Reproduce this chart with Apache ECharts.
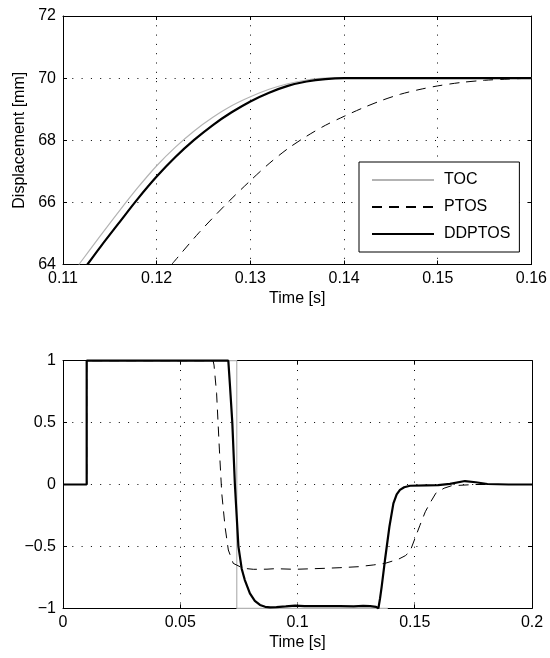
<!DOCTYPE html>
<html>
<head>
<meta charset="utf-8">
<script src="https://cdn.jsdelivr.net/npm/echarts@6.0.0/dist/echarts.min.js"></script>
<style>
html,body{margin:0;padding:0;background:#fff;}
#chart{width:550px;height:658px;}
</style>
</head>
<body>
<div id="chart"></div>
<script>
// ---------- Data ----------
const seriesNames = ['TOC', 'PTOS', 'DDPTOS'];

// Top plot: displacement [mm] vs time [s]
const tocDisp = [
  [0.1117, 64.00], [0.1140, 64.93], [0.1160, 65.72], [0.1180, 66.48], [0.1200, 67.18],
  [0.1220, 67.78], [0.1240, 68.30], [0.1260, 68.74], [0.1280, 69.11], [0.1300, 69.40],
  [0.1320, 69.64], [0.1340, 69.82], [0.1360, 69.94], [0.1380, 70.00], [0.1500, 70.01],
  [0.1600, 70.01]
];
const ptosDisp = [
  [0.1216, 64.00], [0.1245, 65.02], [0.1276, 66.00], [0.1300, 66.70], [0.1320, 67.25],
  [0.1340, 67.73], [0.1360, 68.13], [0.1380, 68.48], [0.1400, 68.77], [0.1420, 69.04],
  [0.1440, 69.28], [0.1460, 69.48], [0.1480, 69.63], [0.1500, 69.75], [0.1525, 69.86],
  [0.1550, 69.93], [0.1575, 69.97], [0.1600, 70.00]
];
const ddptosDisp = [
  [0.1126, 64.00], [0.1140, 64.57], [0.1160, 65.35], [0.1180, 66.12], [0.1200, 66.83],
  [0.1220, 67.46], [0.1240, 68.01], [0.1260, 68.49], [0.1280, 68.90], [0.1300, 69.25],
  [0.1320, 69.53], [0.1340, 69.75], [0.1360, 69.89], [0.1380, 69.97], [0.1400, 70.00],
  [0.1500, 70.00], [0.1600, 70.00]
];

// Bottom plot: normalized control signal vs time [s]
const tocCtrl = [
  [0, 0], [0.0101, 0], [0.0101, 1], [0.0741, 1], [0.0741, -1], [0.1385, -1]
];
const ptosCtrl = [
  [0, 0], [0.0101, 0], [0.0101, 1], [0.0640, 1], [0.0644, 0.965], [0.0655, 0.737],
  [0.0667, 0.279], [0.0677, -0.071], [0.0691, -0.34], [0.0705, -0.529], [0.0726, -0.637],
  [0.0769, -0.677], [0.0812, -0.685], [0.0870, -0.684], [0.0904, -0.68], [0.0989, -0.685],
  [0.1117, -0.677], [0.1181, -0.672], [0.1259, -0.664], [0.1323, -0.65], [0.1373, -0.637],
  [0.1430, -0.604], [0.1460, -0.575], [0.1480, -0.54], [0.1500, -0.44], [0.1522, -0.33],
  [0.1545, -0.22], [0.1565, -0.15], [0.1590, -0.07], [0.1625, -0.03], [0.1657, -0.01],
  [0.1756, 0.0], [0.2000, 0.0]
];
const ddptosCtrl = [
  [0, 0], [0.0101, 0], [0.0101, 1], [0.0705, 1], [0.0712, 0.8], [0.0722, 0.5],
  [0.0733, 0], [0.0748, -0.5], [0.0762, -0.68], [0.0775, -0.77], [0.0797, -0.88],
  [0.0818, -0.94], [0.0840, -0.973], [0.0862, -0.988], [0.0883, -0.993], [0.0910, -0.99],
  [0.0950, -0.985], [0.0990, -0.978], [0.1030, -0.982], [0.1100, -0.983], [0.1180, -0.982],
  [0.1240, -0.984], [0.1280, -0.981], [0.1310, -0.982], [0.1335, -0.988], [0.1345, -1.0],
  [0.1352, -0.92], [0.1359, -0.825], [0.1373, -0.61], [0.1392, -0.34], [0.1409, -0.152],
  [0.1423, -0.08], [0.1437, -0.044], [0.1455, -0.022], [0.1480, -0.01], [0.1550, -0.007],
  [0.1600, -0.005], [0.1650, 0.005], [0.1714, 0.028], [0.1760, 0.018], [0.1810, 0.004],
  [0.1900, 0.0], [0.2000, 0.0]
];

// Axis ranges / ticks
const topXRange = { min: 0.11, max: 0.16, interval: 0.01 };
const topYRange = { min: 64, max: 72, interval: 2 };
const botXRange = { min: 0, max: 0.2, interval: 0.05 };
const botYRange = { min: -1, max: 1, interval: 0.5 };
const xName = 'Time [s]';
const topYName = 'Displacement [mm]';

// ---------- Chart ----------
const FONT = '"Liberation Sans", Arial, Helvetica, sans-serif';
const fmt = v => String(Math.round(v * 10000) / 10000).replace('-', '\u2212');

function mkAxis(kind, grid, range, primary, position, name) {
  const ax = {
    type: 'value', gridIndex: grid, position: position,
    min: range.min, max: range.max, interval: range.interval,
    axisLine: { show: true, onZero: false, lineStyle: { color: '#000', width: 1 } },
    axisTick: { show: true, inside: true, length: 4, lineStyle: { color: '#000', width: 1 } },
    axisLabel: {
      show: primary, color: '#000', fontSize: 16, fontFamily: FONT,
      margin: kind === 'x' ? 6 : 7, formatter: fmt
    },
    splitLine: {
      show: primary,
      lineStyle: { color: '#000', width: 1, type: [1, 8.3] }
    }
  };
  if (name) {
    ax.name = name;
    ax.nameLocation = 'middle';
    ax.nameGap = kind === 'x' ? 26 : 35;
    ax.nameTextStyle = { color: '#000', fontSize: 16, fontFamily: FONT };
  }
  return ax;
}

const styles = {
  TOC: { color: '#b3b3b3', width: 1.2, type: 'solid' },
  PTOS: { color: '#000', width: 1, type: [10, 7] },
  DDPTOS: { color: '#000', width: 2.2, type: 'solid' }
};

function mkSeries(name, data, xi, yi, smooth, clip) {
  return {
    name: name, type: 'line', data: data,
    xAxisIndex: xi, yAxisIndex: yi,
    symbol: 'none', showSymbol: false,
    smooth: smooth ? 0.3 : false,
    clip: clip,
    silent: true, animation: false,
    color: styles[name].color,
    lineStyle: { color: styles[name].color, width: styles[name].width, type: styles[name].type }
  };
}

const option = {
  backgroundColor: '#fff',
  animation: false,
  textStyle: { fontFamily: FONT },
  grid: [
    { left: 63, top: 16, width: 469, height: 248.5 },
    { left: 63, top: 360.7, width: 469, height: 247.6 }
  ],
  xAxis: [
    mkAxis('x', 0, topXRange, true, 'bottom', xName),
    mkAxis('x', 0, topXRange, false, 'top'),
    mkAxis('x', 1, botXRange, true, 'bottom', xName),
    mkAxis('x', 1, botXRange, false, 'top')
  ],
  yAxis: [
    mkAxis('y', 0, topYRange, true, 'left', topYName),
    mkAxis('y', 0, topYRange, false, 'right'),
    mkAxis('y', 1, botYRange, true, 'left'),
    mkAxis('y', 1, botYRange, false, 'right')
  ],
  legend: {
    data: seriesNames,
    orient: 'vertical',
    left: 359, top: 162,
    itemWidth: 62, itemHeight: 14, itemGap: 11,
    padding: [10, 9, 10, 12],
    backgroundColor: '#fff',
    borderColor: '#000', borderWidth: 1, borderRadius: 0,
    selectedMode: false,
    itemStyle: { color: 'rgba(0,0,0,0)', borderWidth: 0, opacity: 0 },
    textStyle: { color: '#000', fontSize: 16, fontFamily: FONT, padding: [0, 0, 0, 5] }
  },
  series: [
    mkSeries('TOC', tocDisp, 0, 0, true, true),
    mkSeries('PTOS', ptosDisp, 0, 0, true, true),
    mkSeries('DDPTOS', ddptosDisp, 0, 0, true, true),
    mkSeries('TOC', tocCtrl, 2, 2, false, false),
    mkSeries('PTOS', ptosCtrl, 2, 2, false, false),
    mkSeries('DDPTOS', ddptosCtrl, 2, 2, false, false)
  ]
};

const chart = echarts.init(document.getElementById('chart'), null, { renderer: 'canvas' });
chart.setOption(option);
</script>
</body>
</html>
